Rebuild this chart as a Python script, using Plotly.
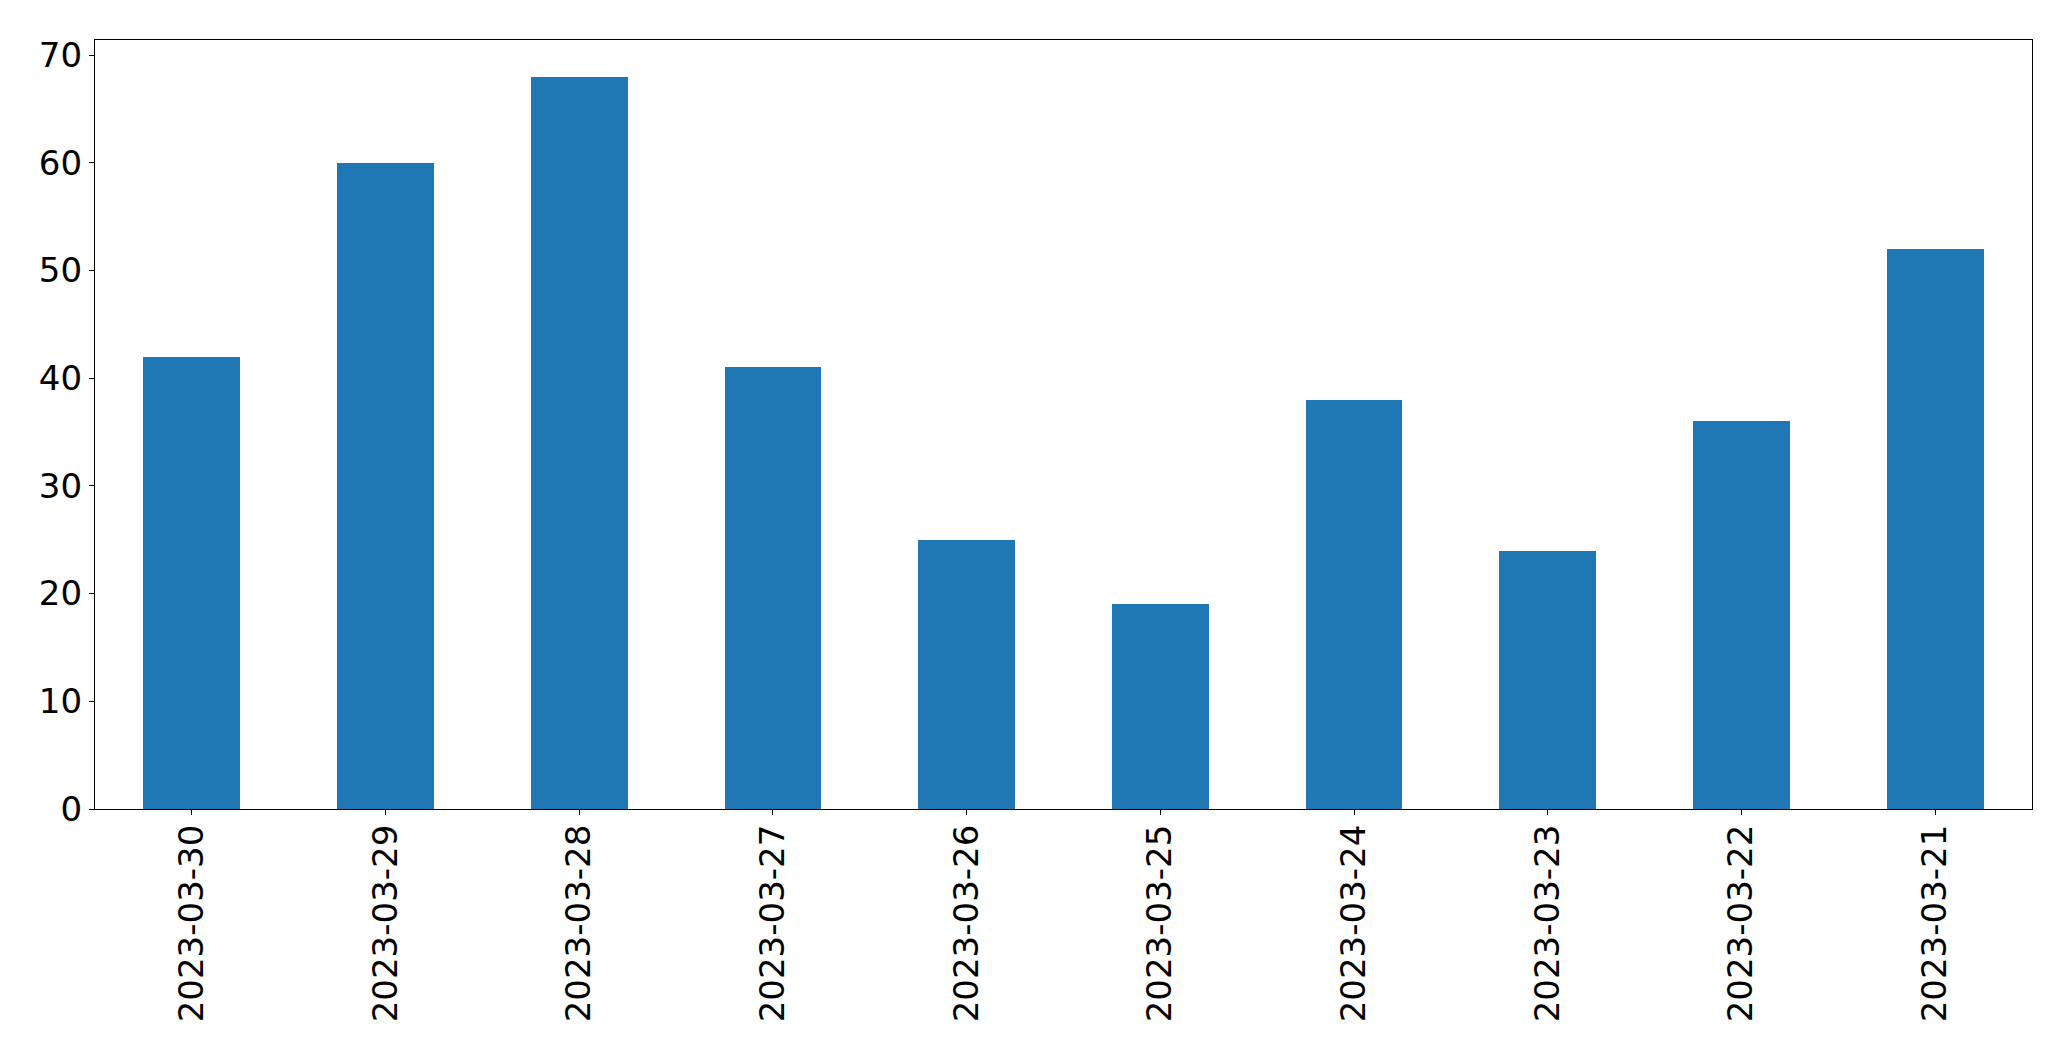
import plotly.graph_objects as go

dates = ["2023-03-30", "2023-03-29", "2023-03-28", "2023-03-27", "2023-03-26",
         "2023-03-25", "2023-03-24", "2023-03-23", "2023-03-22", "2023-03-21"]
counts = [42, 60, 68, 41, 25, 19, 38, 24, 36, 52]
y_ticks = [0, 10, 20, 30, 40, 50, 60, 70]

fig = go.Figure(go.Bar(x=dates, y=counts, width=0.5, marker=dict(color="#1f77b4", line=dict(width=0))))

font = dict(family="DejaVu Sans", size=34, color="black")
# page body has an 8px default margin; figure size and margins compensate
fig.update_layout(
    width=2055, height=1045,
    margin=dict(l=87, r=31, t=32, b=244, autoexpand=False),
    plot_bgcolor="white", paper_bgcolor="white",
    showlegend=False, bargap=0,
    font=font,
)
fig.update_xaxes(
    type="category", range=[-0.5, len(dates) - 0.5],
    showline=True, linecolor="black", linewidth=1.2, mirror=True,
    ticks="outside", ticklen=5, tickwidth=1.2, tickcolor="black",
    tickangle=-90, showgrid=False, tickfont=font, ticklabelstandoff=-4,
)
fig.update_yaxes(
    range=[0, max(counts) * 1.05], tickvals=y_ticks,
    showline=True, linecolor="black", linewidth=1.2, mirror=True,
    ticks="outside", ticklen=5, tickwidth=1.2, tickcolor="black",
    showgrid=False, zeroline=False, tickfont=font, ticklabelstandoff=0,
)
fig.write_html("out.html")
